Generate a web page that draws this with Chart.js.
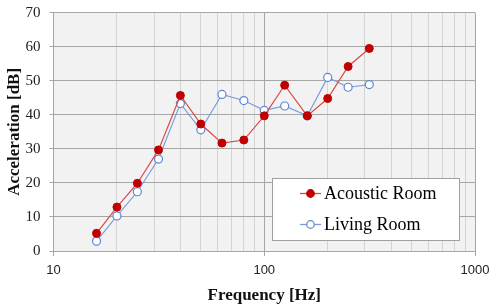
<!DOCTYPE html>
<html>
<head>
<meta charset="utf-8">
<script src="https://cdn.jsdelivr.net/npm/chart.js@4"></script>
<style>
  html, body { margin: 0; padding: 0; background: #fff; }
  #wrap { width: 491px; height: 307px; }
</style>
</head>
<body>
<div id="wrap"><canvas id="Graph" width="491" height="307"></canvas></div>
<script>
// 1/3 octave band centre frequencies [Hz]
const freqs = [16, 20, 25, 31.5, 40, 50, 63, 80, 100, 125, 160, 200, 250, 315];
const acoustic = [5.2, 12.9, 19.9, 29.7, 45.7, 37.3, 31.7, 32.6, 39.7, 48.7, 39.7, 44.8, 54.2, 59.5];
const living = [2.9, 10.3, 17.4, 27.0, 43.3, 35.6, 46.0, 44.2, 41.3, 42.6, 39.7, 51.0, 48.1, 48.9];
const seriesNames = ["Acoustic Room", "Living Room"];

const xGridTicks = [10,20,30,40,50,60,70,80,90,100,200,300,400,500,600,700,800,900,1000];
const xLabelTicks = [10, 100, 1000];

const serif = "'Liberation Serif', 'Times New Roman', serif";
const sans = "'Liberation Sans', Arial, sans-serif";

const darkRed = "#c00000";
const redLine = "#d84a4a";
const blueLine = "#7b9edb";
const blueMark = "#5a86d4";
const gridMajor = "#a6a6a6";
const gridMinor = "#d4d4d4";

function toPoints(ys) {
    return freqs.map((f, i) => ({x: f, y: ys[i]}));
}

const plotBg = {
    id: "plotBg",
    beforeDraw(chart) {
        const a = chart.chartArea;
        const ctx = chart.ctx;
        ctx.save();
        ctx.fillStyle = "#f2f2f2";
        ctx.fillRect(a.left, a.top, a.right - a.left, a.bottom - a.top);
        ctx.restore();
    }
};

// legend box sitting inside the plot area
const boxLegend = {
    id: "boxLegend",
    afterDraw(chart) {
        const a = chart.chartArea;
        const ctx = chart.ctx;
        const x0 = a.right - 203, y0 = a.bottom - 73, w = 187, h = 62;
        ctx.save();
        ctx.fillStyle = "#ffffff";
        ctx.fillRect(x0, y0, w, h);
        ctx.strokeStyle = "#a0a0a0";
        ctx.lineWidth = 1;
        ctx.strokeRect(x0 + 0.5, y0 + 0.5, w, h);
        ctx.font = "18px " + serif;
        ctx.textBaseline = "middle";
        chart.data.datasets.forEach((ds, i) => {
            const cy = y0 + 15.5 + i * 31;
            const lx = x0 + 28;
            ctx.strokeStyle = ds.borderColor;
            ctx.lineWidth = 1.3;
            ctx.beginPath();
            ctx.moveTo(lx, cy);
            ctx.lineTo(lx + 21, cy);
            ctx.stroke();
            ctx.beginPath();
            ctx.arc(lx + 10.5, cy, 3.8, 0, Math.PI * 2);
            ctx.fillStyle = ds.pointBackgroundColor;
            ctx.fill();
            ctx.strokeStyle = ds.pointBorderColor;
            ctx.lineWidth = 1.2;
            ctx.stroke();
            ctx.fillStyle = "#000";
            ctx.fillText(ds.label, lx + 24, cy + 1);
        });
        ctx.restore();
    }
};

new Chart("Graph", {
    type: "line",
    data: {
        datasets: [{
            label: seriesNames[0],
            data: toPoints(acoustic),
            borderColor: redLine,
            borderWidth: 1.2,
            pointRadius: 4,
            pointBackgroundColor: darkRed,
            pointBorderColor: darkRed,
            pointBorderWidth: 1,
            tension: 0
        }, {
            label: seriesNames[1],
            data: toPoints(living),
            borderColor: blueLine,
            borderWidth: 1.2,
            pointRadius: 4,
            pointBackgroundColor: "#ffffff",
            pointBorderColor: blueMark,
            pointBorderWidth: 1.2,
            tension: 0
        }]
    },
    options: {
        responsive: false,
        animation: false,
        layout: {padding: {left: 0, right: 16, top: 12.7, bottom: 0}},
        plugins: {
            legend: {display: false},
            tooltip: {enabled: false}
        },
        scales: {
            x: {
                type: "logarithmic",
                min: 10,
                max: 1000,
                afterBuildTicks(scale) {
                    scale.ticks = xGridTicks.map(v => ({value: v}));
                },
                afterFit(scale) {
                    scale.height = 56;
                    scale.paddingLeft = 0;
                    scale.paddingRight = 0;
                },
                grid: {
                    color: ctx => xLabelTicks.includes(ctx.tick && ctx.tick.value) ? gridMajor : gridMinor,
                    tickColor: ctx => xLabelTicks.includes(ctx.tick && ctx.tick.value) ? gridMajor : "rgba(0,0,0,0)",
                    tickLength: 5,
                    lineWidth: 1
                },
                border: {color: gridMajor},
                ticks: {
                    autoSkip: false,
                    maxRotation: 0,
                    padding: 7,
                    color: "#222",
                    font: {family: sans, size: 13},
                    callback: v => xLabelTicks.includes(v) ? String(v) : ""
                },
                title: {
                    display: true,
                    text: "Frequency [Hz]",
                    color: "#111",
                    font: {family: serif, size: 17, weight: "bold"},
                    padding: {top: 0, bottom: 1}
                }
            },
            y: {
                min: 0,
                max: 70,
                afterFit(scale) {
                    scale.width = 53.5;
                    scale.paddingTop = 0;
                    scale.paddingBottom = 0;
                },
                grid: {color: gridMajor, tickColor: gridMajor, tickLength: 4},
                border: {color: gridMajor},
                ticks: {
                    stepSize: 10,
                    padding: 9,
                    color: "#222",
                    font: {family: serif, size: 15}
                },
                title: {
                    display: true,
                    text: "Acceleration [dB]",
                    color: "#111",
                    font: {family: serif, size: 17, weight: "bold"},
                    padding: {top: 4, bottom: 4}
                }
            }
        }
    },
    plugins: [plotBg, boxLegend]
});
</script>
</body>
</html>
